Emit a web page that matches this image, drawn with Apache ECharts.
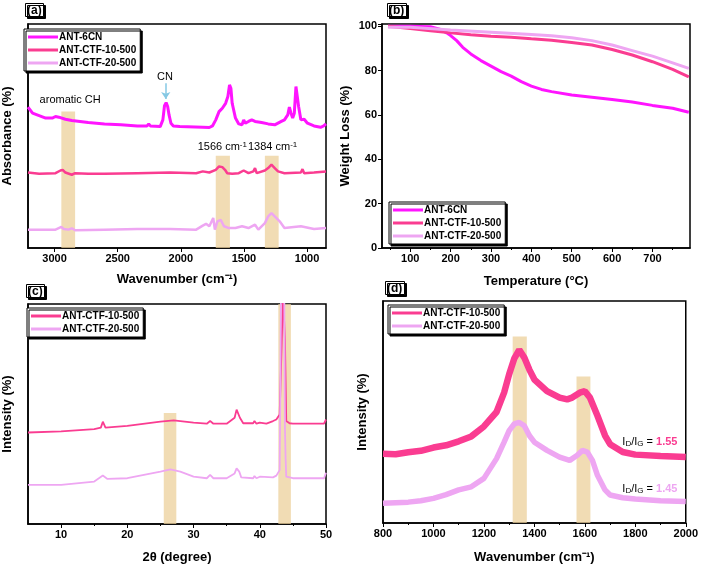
<!DOCTYPE html>
<html><head><meta charset="utf-8">
<script src="https://cdn.jsdelivr.net/npm/echarts@6/dist/echarts.min.js"></script>
<style>html,body{margin:0;padding:0;background:#fff}#c{width:701px;height:565px}</style>
</head><body><div id="c"></div>
<script>
// ---------- DATA ----------
var names = ['ANT-6CN', 'ANT-CTF-10-500', 'ANT-CTF-20-500'];
// (a) FTIR: [wavenumber, absorbance (a.u.)]
var ftir6CN = [[3210,62.9],[3174,60.2],[3122,59.1],[3070,58.0],[3018,58.0],[2992,58.7],[2966,58.4],[2914,57.5],[2863,56.9],[2733,56.0],[2604,55.4],[2474,55.0],[2344,54.5],[2267,54.5],[2254,55.4],[2241,54.5],[2163,54.2],[2142,57.2],[2129,63.5],[2116,64.9],[2104,63.2],[2093,59.4],[2078,55.7],[2059,54.5],[2008,54.2],[1826,53.9],[1774,53.8],[1749,54.5],[1723,57.2],[1697,60.9],[1671,62.4],[1645,64.6],[1627,67.6],[1614,72.8],[1603,71.3],[1593,64.6],[1567,58.0],[1541,55.4],[1515,55.0],[1502,57.2],[1489,55.7],[1464,56.5],[1438,57.2],[1412,56.5],[1360,56.0],[1308,55.4],[1256,55.0],[1204,56.5],[1179,57.2],[1153,59.4],[1140,62.9],[1127,60.2],[1114,58.0],[1101,60.2],[1088,72.1],[1077,71.3],[1067,63.2],[1049,57.2],[1023,57.5],[997,55.7],[945,54.5],[893,53.9],[868,54.5],[850,55.4]];
var ftirCTF10 = [[3210,33.7],[3122,33.1],[2992,33.4],[2953,34.6],[2935,34.9],[2914,33.7],[2863,32.7],[2837,33.4],[2733,33.1],[2604,33.1],[2344,33.4],[2085,33.7],[1878,33.4],[1826,34.2],[1774,33.7],[1723,34.9],[1697,36.4],[1671,36.1],[1650,34.9],[1632,33.4],[1593,33.1],[1541,33.4],[1502,34.6],[1464,33.4],[1425,34.2],[1412,35.7],[1399,33.4],[1334,34.6],[1308,35.7],[1282,37.2],[1256,35.7],[1230,34.2],[1179,33.4],[1049,33.7],[1036,35.2],[1023,33.4],[945,33.7],[850,34.2]];
var ftirCTF20 = [[3210,8.2],[2992,8.2],[2946,9.4],[2927,8.5],[2889,8.2],[2863,8.8],[2837,7.9],[2604,8.2],[2344,8.5],[2085,8.5],[1878,8.2],[1826,10.0],[1800,10.8],[1774,9.7],[1762,10.3],[1743,13.4],[1730,8.2],[1710,11.9],[1684,12.6],[1658,9.7],[1619,8.9],[1567,8.9],[1515,9.7],[1464,8.9],[1412,10.4],[1386,8.2],[1334,11.1],[1308,14.1],[1282,15.6],[1256,14.1],[1217,11.9],[1179,8.9],[1049,9.7],[945,8.5],[850,8.9]];
var ftirBands = [[2946,2837,60.9],[1723,1611,41.2],[1334,1225,41.2]];
var ftirTicks = [1000,1500,2000,2500,3000];
// (b) TGA: [temperature, weight %]
var tga6CN = [[45,100],[100,100],[150,99.8],[175,98.5],[190,97],[200,95.8],[215,93.5],[230,90.5],[250,87.5],[275,84.5],[300,82],[325,79.5],[350,77.5],[375,75],[400,73],[425,71.5],[450,70.5],[500,69],[550,68],[600,67],[650,65.8],[700,64.3],[750,63],[790,61.2]];
var tgaCTF10 = [[45,100],[100,99],[150,98],[200,97],[250,96.2],[300,95.5],[350,95],[400,94.3],[450,93.7],[500,92.7],[550,91.5],[600,89.5],[650,87],[700,84],[750,80.5],[790,77.2]];
var tgaCTF20 = [[45,99.5],[100,99.5],[200,98.3],[300,97.3],[400,96.3],[450,95.7],[500,94.8],[550,93.5],[600,91.5],[650,89],[700,86.5],[750,83.5],[790,81]];
var tgaTicks = [100,200,300,400,500,600,700];
var tgaMinor = [50,150,250,350,450,550,650,750];
// (c) XRD: [2theta, intensity (a.u.)]
var xrdCTF10 = [[5,41.6],[10,42.1],[15,43.1],[16,43.8],[16.3,46.5],[16.7,43.8],[20,44.6],[25,46.5],[27,47.1],[30,46.1],[32,45.6],[32.5,46.8],[33,45.6],[35,45.6],[36.2,48.3],[36.5,52.0],[36.8,52.0],[37,48.3],[37.5,45.8],[39,45.8],[39.2,46.8],[39.5,45.6],[40,46.1],[41,45.6],[42,46.8],[42.5,47.5],[42.8,46.8],[43,49.8],[43.3,81],[43.5,105],[43.7,105],[43.8,84],[44,46.8],[44.5,45.8],[45,45.6],[49.7,45.6],[50,47.5]];
var xrdCTF20 = [[5,17.8],[10,17.8],[15,19.3],[16.3,22.0],[17,20.5],[20,20.8],[25,23.8],[26.5,24.8],[28,23.8],[30,21.5],[32,20.8],[32.5,22.3],[33,20.8],[35,20.8],[36.2,23.0],[36.5,25.3],[36.9,23.8],[37.2,21.2],[39,20.8],[39.2,21.8],[39.5,20.8],[40,21.5],[42,21.2],[42.5,22.0],[43,24.5],[43.1,58.7],[43.2,105],[43.7,105],[43.8,43.8],[43.9,29.7],[44,21.5],[45,20.8],[49.7,20.8],[50,23.3]];
var xrdBands = [[25.5,27.4,50.5],[42.8,44.7,100]];
var xrdTicks = [10,20,30,40,50];
var xrdMinor = [15,25,35,45];
// (d) Raman: [wavenumber, intensity (a.u.)]
var ramCTF10 = [[800,31.2],[850,31.0],[900,31.9],[950,32.5],[1000,34.0],[1050,35.0],[1100,36.8],[1150,39.0],[1200,43.5],[1250,50.0],[1280,58.7],[1300,67.0],[1320,74.0],[1340,78.0],[1360,74.5],[1380,69.1],[1400,64.6],[1450,59.4],[1500,56.5],[1530,55.7],[1550,56.5],[1580,58.7],[1600,59.4],[1620,56.5],[1650,48.3],[1680,39.4],[1700,35.5],[1750,32.0],[1800,30.8],[1900,30.2],[2000,29.7]];
var ramCTF20 = [[800,8.9],[900,9.4],[950,10.0],[1000,11.1],[1050,12.8],[1100,14.9],[1150,16.3],[1200,20.1],[1250,29.0],[1280,36.4],[1300,41.6],[1320,44.6],[1340,45.3],[1360,43.8],[1380,39.4],[1400,36.4],[1450,32.7],[1500,29.7],[1540,28.2],[1570,30.5],[1590,32.7],[1610,31.9],[1630,28.2],[1650,21.5],[1680,14.9],[1700,12.6],[1750,11.4],[1800,10.8],[1900,10.0],[2000,9.7]];
var ramBands = [[1314,1370,84],[1567,1622,66]];
var ramMinor = [900,1100,1300,1500,1700,1900];
var ratios = ['1.55', '1.45'];

// ---------- STYLE ----------
var colors = ['#ff14ff', '#fa3c91', '#eea6f2'];
var FONT = 'Liberation Sans';
var bandColor = 'rgba(236,208,155,0.75)';

var grids = [
  {left: 22, top: 24, width: 304, height: 224},
  {left: 382, top: 24, width: 308, height: 224},
  {left: 23, top: 304, width: 303, height: 224},
  {left: 383, top: 301, width: 306, height: 224}
];
grids.forEach(function (g) { g.show = true; g.borderColor = '#000'; g.borderWidth = 1.5; g.backgroundColor = 'transparent'; });

function plain(v) { return String(v); }
function labelStyle(extra) {
  var s = {fontFamily: FONT, fontWeight: 'bold', fontSize: 11, color: '#000', margin: 5, formatter: plain};
  for (var k in extra) s[k] = extra[k];
  return s;
}
function xAx(gi, opts) {
  var base = {
    gridIndex: gi, type: 'value', position: 'bottom', nameLocation: 'middle', nameGap: 25,
    nameTextStyle: {fontFamily: FONT, fontWeight: 'bold', fontSize: 13, color: '#000'},
    axisLine: {show: true, onZero: false, lineStyle: {color: '#000', width: 1.5}},
    axisTick: {show: true, length: 4, lineStyle: {color: '#000'}},
    axisLabel: labelStyle({}),
    splitLine: {show: false}
  };
  for (var k in opts) base[k] = opts[k];
  return base;
}
function minorAx(gi, min, max, vals) {
  return {gridIndex: gi, type: 'value', position: 'bottom', min: min, max: max,
    axisLine: {show: false, onZero: false}, axisLabel: {show: false, customValues: vals},
    axisTick: {show: true, length: 2, lineStyle: {color: '#000'}, customValues: vals}, splitLine: {show: false}};
}
function yAx(gi, opts) {
  var base = {
    gridIndex: gi, type: 'value', nameLocation: 'middle', nameGap: 14,
    nameTextStyle: {fontFamily: FONT, fontWeight: 'bold', fontSize: 13, color: '#000'},
    axisLine: {show: true, onZero: false, lineStyle: {color: '#000', width: 1.5}},
    axisTick: {show: false}, axisLabel: {show: false}, splitLine: {show: false}
  };
  for (var k in opts) base[k] = opts[k];
  return base;
}

var xAxes = [
  xAx(0, {min: 850, max: 3210, inverse: true, name: 'Wavenumber (cm\u207B\u00B9)',
    axisLabel: labelStyle({customValues: ftirTicks}),
    axisTick: {show: true, length: 4, lineStyle: {color: '#000'}, customValues: ftirTicks}}),
  xAx(1, {min: 30, max: 793, name: 'Temperature (\u00B0C)', nameGap: 27,
    axisLabel: labelStyle({customValues: tgaTicks}),
    axisTick: {show: true, length: 4, lineStyle: {color: '#000'}, customValues: tgaTicks}}),
  xAx(2, {min: 5, max: 50, name: '2\u03B8 (degree)', nameGap: 27,
    axisLabel: labelStyle({customValues: xrdTicks}),
    axisTick: {show: true, length: 4, lineStyle: {color: '#000'}, customValues: xrdTicks}}),
  xAx(3, {min: 800, max: 2000, interval: 200, name: 'Wavenumber (cm\u207B\u00B9)', nameGap: 28}),
  minorAx(1, 30, 793, tgaMinor),
  minorAx(2, 5, 50, xrdMinor),
  minorAx(3, 800, 2000, ramMinor)
];
var yAxes = [
  yAx(0, {min: 0, max: 100, name: 'Absorbance (%)'}),
  yAx(1, {min: 0, max: 101, interval: 20, name: 'Weight Loss (%)', nameGap: 30,
    axisTick: {show: true, length: 4, lineStyle: {color: '#000'}},
    axisLabel: labelStyle({show: true, formatter: function (v) { return v % 20 === 0 ? String(v) : ''; }})}),
  yAx(2, {min: 0, max: 100, name: 'Intensity (%)'}),
  yAx(3, {min: 0, max: 100, name: 'Intensity (%)'})
];

function line(gi, name, data, ci, width) {
  return {type: 'line', name: name, xAxisIndex: gi, yAxisIndex: gi, data: data, showSymbol: false,
    symbol: 'none', clip: true, z: 3, lineStyle: {color: colors[ci], width: width}, itemStyle: {color: colors[ci]}};
}
function bands(gi, arr, extra) {
  var s = {type: 'line', name: 'bands' + gi, xAxisIndex: gi, yAxisIndex: gi, data: [], z: 1, silent: true,
    markArea: {silent: true, itemStyle: {color: bandColor},
      data: arr.map(function (b) { return [{coord: [b[0], 0]}, {coord: [b[1], b[2]]}]; })}};
  if (extra) for (var k in extra) s[k] = extra[k];
  return s;
}
function txt(coord, fmt, style) {
  var lbl = {show: true, position: 'inside', formatter: fmt, fontFamily: FONT, fontSize: 11, color: '#000'};
  for (var k in style) lbl[k] = style[k];
  return {coord: coord, symbol: 'circle', symbolSize: 1, itemStyle: {color: 'rgba(0,0,0,0)'}, label: lbl};
}

var supStyle = {fontFamily: FONT, fontSize: 8, color: '#000', verticalAlign: 'top', lineHeight: 10};
var nStyle = {fontFamily: FONT, fontSize: 11, color: '#000'};

var series = [
  bands(0, ftirBands, {
    markPoint: {silent: true, data: [
      txt([2876, 66.1], 'aromatic CH', {fontSize: 11}),
      txt([2125, 76.5], 'CN', {fontSize: 11}),
      txt([1671, 45.2], '{n|1566 cm}{sup|-1}', {rich: {n: nStyle, sup: supStyle}}),
      txt([1273, 45.2], '{n|1384 cm}{sup|-1}', {rich: {n: nStyle, sup: supStyle}})
    ]},
    markLine: {silent: true, symbol: ['none', 'arrow'], symbolSize: 7, label: {show: false},
      lineStyle: {color: '#86c9e4', width: 1.5, type: 'solid'},
      data: [[{coord: [2119, 73.5]}, {coord: [2119, 66.5]}]]}
  }),
  line(0, names[0], ftir6CN, 0, 3),
  line(0, names[1], ftirCTF10, 1, 2.5),
  line(0, names[2], ftirCTF20, 2, 2.5),
  line(1, names[0], tga6CN, 0, 3),
  line(1, names[1], tgaCTF10, 1, 3),
  line(1, names[2], tgaCTF20, 2, 3),
  bands(2, xrdBands),
  line(2, names[1], xrdCTF10, 1, 1.8),
  line(2, names[2], xrdCTF20, 2, 1.8),
  bands(3, ramBands, {
    markPoint: {silent: true, data: [
      txt([1967, 36.4], '{n|I}{sub|D}{n|/I}{sub|G}{n| = }{v|' + ratios[0] + '}',
        {align: 'right', rich: {n: nStyle, sub: {fontFamily: FONT, fontSize: 8, color: '#000', verticalAlign: 'bottom', lineHeight: 8}, v: {fontFamily: FONT, fontSize: 11, fontWeight: 'bold', color: colors[1]}}}),
      txt([1967, 15.3], '{n|I}{sub|D}{n|/I}{sub|G}{n| = }{v|' + ratios[1] + '}',
        {align: 'right', rich: {n: nStyle, sub: {fontFamily: FONT, fontSize: 8, color: '#000', verticalAlign: 'bottom', lineHeight: 8}, v: {fontFamily: FONT, fontSize: 11, fontWeight: 'bold', color: colors[2]}}})
    ]}
  }),
  line(3, names[1], ramCTF10, 1, 6.5),
  line(3, names[2], ramCTF20, 2, 5.5)
];

function legend(left, top, data) {
  return {left: left, top: top, orient: 'vertical', data: data, itemGap: 3, itemWidth: 30, itemHeight: 3, icon: 'rect',
    padding: [3, 4, 3, 4], backgroundColor: '#fff', borderColor: '#000', borderWidth: 1,
    shadowColor: '#000', shadowOffsetX: 2, shadowOffsetY: 2, shadowBlur: 0, selectedMode: false,
    textStyle: {fontFamily: FONT, fontWeight: 'bold', fontSize: 10, color: '#000', padding: [0, 0, 0, -4]}};
}
function panelTitle(text, left, top) {
  return {text: text, left: left, top: top, padding: [1, 2, 0, 2], backgroundColor: '#fff', borderColor: '#000', borderWidth: 1,
    shadowColor: '#000', shadowOffsetX: 2, shadowOffsetY: 2, shadowBlur: 0,
    textStyle: {fontFamily: FONT, fontWeight: 'bold', fontSize: 12, color: '#000', lineHeight: 13}};
}

var chart = echarts.init(document.getElementById('c'), null, {renderer: 'canvas'});
chart.setOption({
  animation: false,
  backgroundColor: '#fff',
  textStyle: {fontFamily: FONT},
  title: [panelTitle('(a)', 25, 3), panelTitle('(b)', 387, 3), panelTitle('(c)', 26, 284), panelTitle('(d)', 385, 281)],
  legend: [legend(24, 29, names), legend(389, 202, names), legend(27, 308, names.slice(1)), legend(388, 305, names.slice(1))],
  grid: grids,
  xAxis: xAxes,
  yAxis: yAxes,
  series: series
});
</script></body></html>
